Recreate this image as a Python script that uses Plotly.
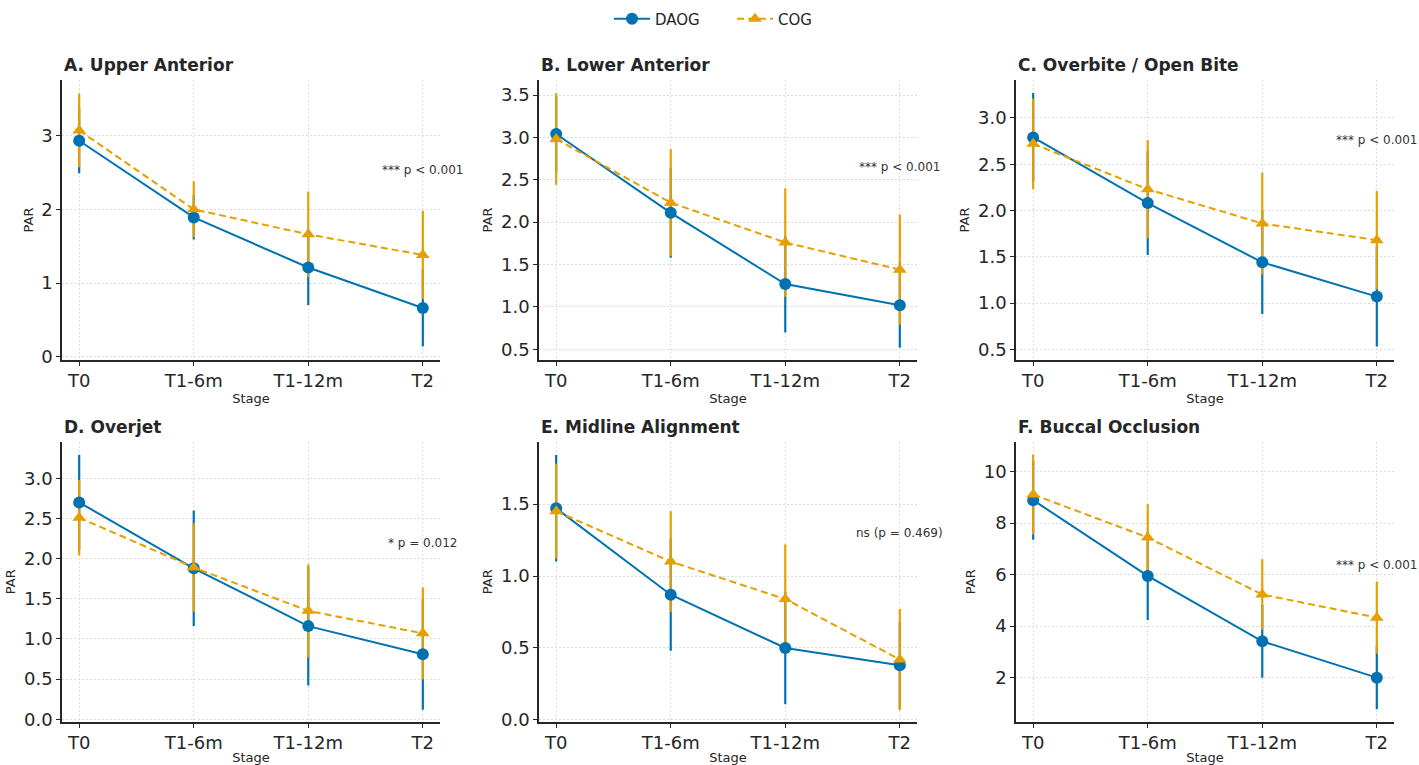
import plotly.graph_objects as go

stages = ["T0", "T1-6m", "T1-12m", "T2"]
groups = ["DAOG", "COG"]

panel_titles = ["A. Upper Anterior", "B. Lower Anterior", "C. Overbite / Open Bite",
                "D. Overjet", "E. Midline Alignment", "F. Buccal Occlusion"]
p_labels = ["*** p < 0.001", "*** p < 0.001", "*** p < 0.001",
            "* p = 0.012", "ns (p = 0.469)", "*** p < 0.001"]

daog_mean = [
    [2.93, 1.89, 1.21, 0.66],
    [3.04, 2.11, 1.27, 1.02],
    [2.79, 2.08, 1.44, 1.07],
    [2.70, 1.88, 1.16, 0.81],
    [1.47, 0.87, 0.50, 0.38],
    [8.89, 5.95, 3.41, 2.00],
]
daog_sd = [
    [0.44, 0.30, 0.51, 0.52],
    [0.45, 0.53, 0.57, 0.50],
    [0.48, 0.56, 0.56, 0.54],
    [0.59, 0.72, 0.74, 0.69],
    [0.37, 0.39, 0.39, 0.30],
    [1.54, 1.71, 1.41, 1.23],
]
cog_mean = [
    [3.07, 2.00, 1.66, 1.38],
    [2.98, 2.23, 1.76, 1.44],
    [2.72, 2.23, 1.86, 1.68],
    [2.51, 1.89, 1.35, 1.07],
    [1.45, 1.10, 0.84, 0.42],
    [9.11, 7.44, 5.23, 4.33],
]
cog_sd = [
    [0.50, 0.38, 0.58, 0.60],
    [0.54, 0.63, 0.64, 0.65],
    [0.49, 0.53, 0.55, 0.53],
    [0.47, 0.55, 0.58, 0.57],
    [0.33, 0.35, 0.38, 0.35],
    [1.55, 1.29, 1.37, 1.40],
]

# ---- layout / style constants ----
W, H = 1419, 765
BLUE = "#0072B2"
ORANGE = "#E69F00"
DARK = "#262626"
FONT = "DejaVu Sans"

x_px = [(62, 440), (539, 917), (1016, 1394)]
y_px = [(80, 360), (441.7, 721.7)]
y_ranges = [[-0.045, 3.755], [0.374, 3.677], [0.385, 3.41],
            [-0.03, 3.456], [-0.012, 1.933], [0.29, 11.16]]
y_dtick = [1, 0.5, 0.5, 0.5, 0.5, 2]
y_fmt = ["d", ".1f", ".1f", ".1f", ".1f", "d"]
p_ypos = [0.68, 0.69, 0.786, 0.637, 0.675, 0.56]

fig = go.Figure()
layout_axes = {}
annotations = []

for i in range(6):
    r, c = divmod(i, 3)
    n = i + 1
    xa = "x" if n == 1 else f"x{n}"
    ya = "y" if n == 1 else f"y{n}"
    xkey = "xaxis" if n == 1 else f"xaxis{n}"
    ykey = "yaxis" if n == 1 else f"yaxis{n}"

    x0, x1 = x_px[c]
    yt, yb = y_px[r]
    xdom = [x0 / W, x1 / W]
    ydom = [(H - yb) / H, (H - yt) / H]

    common = dict(showline=True, linecolor=DARK, linewidth=1.6, mirror=False,
                  ticks="outside", ticklen=4, tickwidth=1.2, tickcolor=DARK,
                  showgrid=True, gridcolor="#dcdcdc", griddash="2px,2px", gridwidth=1,
                  zeroline=False, automargin=False,
                  tickfont=dict(family=FONT, size=18, color=DARK))
    layout_axes[xkey] = dict(domain=xdom, anchor=ya, type="category",
                             categoryorder="array", categoryarray=stages,
                             range=[-0.15, 3.15],
                             title=dict(text="Stage", standoff=3,
                                        font=dict(family=FONT, size=13, color=DARK)),
                             **common)
    layout_axes[ykey] = dict(domain=ydom, anchor=xa, range=y_ranges[i],
                             dtick=y_dtick[i], tick0=0, tickformat=y_fmt[i],
                             title=dict(text="PAR", standoff=5,
                                        font=dict(family=FONT, size=13, color=DARK)),
                             **common)

    # error bars first (drawn beneath lines/markers)
    for mean, sd, col in ((daog_mean[i], daog_sd[i], BLUE), (cog_mean[i], cog_sd[i], ORANGE)):
        fig.add_trace(go.Scatter(
            x=stages, y=mean, mode="markers", xaxis=xa, yaxis=ya,
            marker=dict(size=1, opacity=0, color=col),
            error_y=dict(type="data", array=sd, visible=True, color=col,
                         thickness=2.2, width=0),
            showlegend=False, hoverinfo="skip"))

    fig.add_trace(go.Scatter(
        x=stages, y=daog_mean[i], mode="lines+markers", name=groups[0],
        xaxis=xa, yaxis=ya, legendgroup=groups[0], showlegend=(i == 0),
        line=dict(color=BLUE, width=2),
        marker=dict(symbol="circle", size=12, color=BLUE)))
    fig.add_trace(go.Scatter(
        x=stages, y=cog_mean[i], mode="lines+markers", name=groups[1],
        xaxis=xa, yaxis=ya, legendgroup=groups[1], showlegend=(i == 0),
        line=dict(color=ORANGE, width=2, dash="7px,4px"),
        marker=dict(symbol="triangle-up", size=12, color=ORANGE)))

    annotations.append(dict(
        text=f"<b>{panel_titles[i]}</b>", xref="paper", yref="paper",
        x=x0 / W, y=(H - (yt - 15)) / H, xanchor="left", yanchor="middle",
        showarrow=False, font=dict(family=FONT, size=17, color=DARK)))
    annotations.append(dict(
        text=p_labels[i], xref=xa, yref=f"{ya} domain",
        x="T2", y=p_ypos[i], xanchor="center", yanchor="middle",
        showarrow=False, font=dict(family=FONT, size=12, color="#333333")))

fig.update_layout(
    width=W, height=H,
    margin=dict(l=0, r=0, t=0, b=0, autoexpand=False),
    paper_bgcolor="white", plot_bgcolor="white",
    font=dict(family=FONT, color=DARK),
    legend=dict(orientation="h", x=609 / W, xanchor="left", y=(H - 19) / H,
                yanchor="middle", entrywidth=72, entrywidthmode="pixels",
                itemwidth=36,
                font=dict(family=FONT, size=15, color=DARK),
                bgcolor="rgba(0,0,0,0)"),
    annotations=annotations,
    **layout_axes)

fig.write_html("out.html", config={"displayModeBar": False},
               post_script="document.body.style.margin='0';document.body.style.padding='0';")
